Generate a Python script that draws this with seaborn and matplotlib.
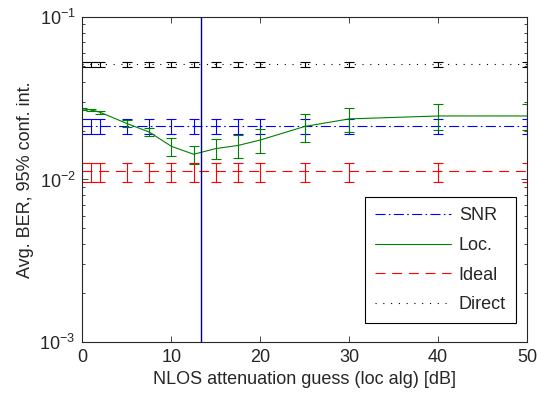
import numpy as np
import pandas as pd
import matplotlib
matplotlib.use("Agg")
import matplotlib.pyplot as plt
import seaborn as sns

# ---- data ----
x_db = [0, 1, 2, 5, 7.5, 10, 12.5, 15, 17.5, 20, 25, 30, 40, 50]
snr_ber = [0.0213] * 14
snr_err = [0.0023] * 14
loc_ber = [0.0272, 0.0268, 0.0259, 0.0221, 0.0196, 0.0160, 0.0143, 0.0155,
           0.0162, 0.0175, 0.0212, 0.0236, 0.0246, 0.0246]
loc_err = [0.0005, 0.0005, 0.0005, 0.0011, 0.0012, 0.0020, 0.0018, 0.0022,
           0.0026, 0.0030, 0.0041, 0.0041, 0.0044, 0.0044]
ideal_ber = [0.0112] * 14
ideal_err = [0.0015] * 14
direct_ber = [0.0513] * 14
direct_err = [0.0018] * 14
vline_x = 13.3
x_ticks = [0, 10, 20, 30, 40, 50]

series = [
    ("SNR", snr_ber, snr_err, "#0000ff", (0, (9, 3, 1.5, 3))),
    ("Loc.", loc_ber, loc_err, "#008000", "-"),
    ("Ideal", ideal_ber, ideal_err, "#ff0000", (0, (9, 6))),
    ("Direct", direct_ber, direct_err, "#000000", (0, (1, 6))),
]

sns.set_style("ticks")
plt.rcParams["font.family"] = ["Liberation Sans", "DejaVu Sans"]
plt.rcParams["font.size"] = 13
plt.rcParams["mathtext.fontset"] = "custom"
plt.rcParams["mathtext.rm"] = "Liberation Sans"
plt.rcParams["mathtext.it"] = "Liberation Sans:italic"
plt.rcParams["mathtext.bf"] = "Liberation Sans:bold"

fig = plt.figure(figsize=(5.37, 3.99), dpi=100)
ax = fig.add_axes([0.1536, 0.1429, 0.8278, 0.8145])

for name, yv, ev, col, ls in series:
    df = pd.DataFrame({"x": x_db, "y": yv})
    sns.lineplot(data=df, x="x", y="y", ax=ax, color=col, linestyle=ls,
                 linewidth=0.8, label=name)
    ax.errorbar(x_db, yv, yerr=ev, fmt="none", ecolor=col, elinewidth=0.8,
                capsize=3.5, capthick=0.8)

ax.axvline(vline_x, color="#000080", linewidth=1.0)

ax.set_yscale("log")
ax.set_xlim(0, 50)
ax.set_ylim(1e-3, 1e-1)
ax.set_xticks(x_ticks)
ax.set_xlabel("NLOS attenuation guess (loc alg) [dB]", fontsize=13, labelpad=4)
ax.set_ylabel("Avg. BER, 95% conf. int.", fontsize=13, labelpad=4)

ax.tick_params(which="both", direction="in", top=True, right=True,
               labelsize=13, width=0.6)
ax.tick_params(which="major", length=4, pad=5)
ax.tick_params(which="minor", length=2)
for s in ax.spines.values():
    s.set_linewidth(0.8)
    s.set_visible(True)

leg = ax.legend(loc="lower right", bbox_to_anchor=(0.975, 0.058), fancybox=False,
                edgecolor="black", framealpha=1, fontsize=13,
                handlelength=4.2, labelspacing=0.7, borderpad=0.55,
                handletextpad=0.45, borderaxespad=0)
leg.get_frame().set_linewidth(0.8)

fig.savefig("out.png", dpi=100)
